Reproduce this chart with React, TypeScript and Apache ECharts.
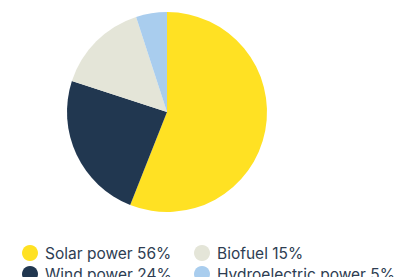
import React, { useEffect, useRef } from "react";
import * as echarts from "echarts";

const names = ["Solar power", "Wind power", "Biofuel", "Hydroelectric power"];
const values = [56, 24, 15, 5];
const colors = ["#FFE123", "#213750", "#E4E5D8", "#A9CDEE"];
const col1 = [names[0], names[1]];
const col2 = [names[2], names[3]];

export default function App() {
  const ref = useRef<HTMLDivElement>(null);
  useEffect(() => {
    const chart = echarts.init(ref.current!, null, { renderer: "svg" });
    const fmt = (n: string) => {
      const i = names.indexOf(n);
      return `${n} ${values[i]}%`;
    };
    const legendBase = {
      orient: "vertical" as const,
      top: 240,
      height: 80,
      icon: "circle",
      itemWidth: 16,
      itemHeight: 16,
      itemGap: 5,
      formatter: fmt,
      selectedMode: false,
      textStyle: {
        color: "#2E3D52",
        fontSize: 15.5,
        lineHeight: 16,
        fontFamily: "Inter",
        padding: [0, 0, 0, 2],
      },
    };
    chart.setOption({
      animation: false,
      color: colors,
      legend: [
        { ...legendBase, left: 17, data: col1 },
        { ...legendBase, left: 189, data: col2 },
      ],
      series: [
        {
          type: "pie",
          center: [167, 112],
          radius: [0, 100],
          startAngle: 90,
          clockwise: true,
          label: { show: false },
          labelLine: { show: false },
          silent: true,
          data: names.map((n, i) => ({ name: n, value: values[i] })),
        },
      ],
    });
    return () => chart.dispose();
  }, []);
  return (
    <div
      ref={ref}
      style={{ position: "fixed", left: 0, top: 0, width: 407, height: 277, background: "#fff" }}
    />
  );
}
